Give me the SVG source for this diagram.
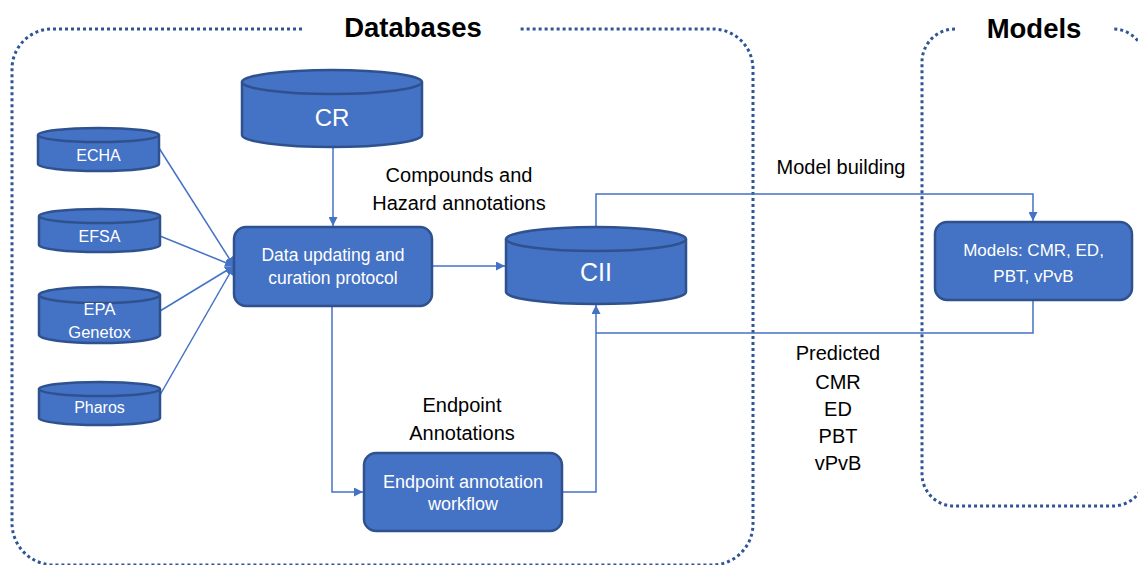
<svg xmlns="http://www.w3.org/2000/svg" width="1138" height="565" viewBox="0 0 1138 565">
  <defs>
    <marker id="arrow" viewBox="0 0 10 10" refX="10" refY="5" markerWidth="9" markerHeight="9" markerUnits="userSpaceOnUse" orient="auto">
      <path d="M0,0 L10,5 L0,10 Z" fill="#4472C4"/>
    </marker>
    <style>
      .frame { fill: none; stroke: #2F5597; stroke-width: 3; stroke-dasharray: 3 3; }
      .shape { fill: #4472C4; stroke: #2F528F; stroke-width: 2.5; }
      .link { fill: none; stroke: #4472C4; stroke-width: 1.5; }
      .arrow { marker-end: url(#arrow); }
      .label { font-family: "Liberation Sans", Arial, sans-serif; fill: #FFFFFF; text-anchor: middle; }
      .note { font-family: "Liberation Sans", Arial, sans-serif; fill: #000000; text-anchor: middle; font-size: 20px; }
      .title { font-family: "Liberation Sans", Arial, sans-serif; fill: #000000; text-anchor: middle; font-size: 27.5px; font-weight: bold; }
    </style>
  </defs>
  <rect width="1138" height="565" fill="#FFFFFF"/>

  <!-- Group frames -->
  <g id="databases-frame">
    <path class="frame" d="M302,29 H52 A40,40 0 0 0 12,69 V523 A42,42 0 0 0 54,565 H712 A41,41 0 0 0 753,524 V69 A40,40 0 0 0 713,29 H520"/>
    <text class="title" x="413" y="37">Databases</text>
  </g>
  <g id="models-frame">
    <path class="frame" d="M955,29 A33,33 0 0 0 922,62 V474 A32,32 0 0 0 954,506 H1113 A32,32 0 0 0 1145,474 V61 A32,32 0 0 0 1113,29 H1112"/>
    <text class="title" x="1034" y="38">Models</text>
  </g>

  <!-- Connectors -->
  <g id="connectors">
    <line class="link arrow" x1="159" y1="148" x2="234" y2="266"/>
    <line class="link arrow" x1="160" y1="236" x2="234" y2="266"/>
    <line class="link arrow" x1="160" y1="311" x2="234" y2="266"/>
    <line class="link arrow" x1="160" y1="395" x2="234" y2="266"/>
    <line class="link arrow" x1="333" y1="147" x2="333" y2="226"/>
    <line class="link arrow" x1="432" y1="266" x2="505" y2="266"/>
    <polyline class="link arrow" points="596,227 596,194 1033,194 1033,221"/>
    <polyline class="link" points="1033,301 1033,333 596,333"/>
    <polyline class="link arrow" points="332,306 332,492 363,492"/>
    <polyline class="link arrow" points="562,492 596,492 596,305"/>
  </g>

  <!-- Source databases -->
  <g id="echa">
    <path class="shape" d="M38,135 V164 A60.5,7 0 0 0 159,164 V135"/>
    <ellipse class="shape" cx="98.5" cy="135" rx="60.5" ry="7"/>
    <text class="label" x="98.5" y="161" font-size="16">ECHA</text>
  </g>
  <g id="efsa">
    <path class="shape" d="M39,216 V245 A60.5,7 0 0 0 160,245 V216"/>
    <ellipse class="shape" cx="99.5" cy="216" rx="60.5" ry="7"/>
    <text class="label" x="99.5" y="242" font-size="16">EFSA</text>
  </g>
  <g id="epa-genetox">
    <path class="shape" d="M39,295 V335 A60.5,8 0 0 0 160,335 V295"/>
    <ellipse class="shape" cx="99.5" cy="295" rx="60.5" ry="8"/>
    <text class="label" x="99.5" y="315" font-size="16.5">EPA</text>
    <text class="label" x="99.5" y="338" font-size="16.5">Genetox</text>
  </g>
  <g id="pharos">
    <path class="shape" d="M39,389 V418 A60.5,7 0 0 0 160,418 V389"/>
    <ellipse class="shape" cx="99.5" cy="389" rx="60.5" ry="7"/>
    <text class="label" x="99.5" y="413" font-size="16">Pharos</text>
  </g>

  <!-- Core stores and processes -->
  <g id="cr">
    <path class="shape" d="M242,82 V135 A90,12 0 0 0 422,135 V82"/>
    <ellipse class="shape" cx="332" cy="82" rx="90" ry="12"/>
    <text class="label" x="332" y="125.5" font-size="24">CR</text>
  </g>
  <g id="curation">
    <rect class="shape" x="234" y="227" width="198" height="79" rx="12"/>
    <text class="label" x="333" y="261" font-size="17.5">Data updating and</text>
    <text class="label" x="333" y="284" font-size="17.5">curation protocol</text>
  </g>
  <g id="cii">
    <path class="shape" d="M506,239 V292 A90,12 0 0 0 686,292 V239"/>
    <ellipse class="shape" cx="596" cy="239" rx="90" ry="12"/>
    <text class="label" x="596" y="281" font-size="25">CII</text>
  </g>
  <g id="endpoint-workflow">
    <rect class="shape" x="364" y="453" width="198" height="78" rx="12"/>
    <text class="label" x="463" y="488" font-size="18">Endpoint annotation</text>
    <text class="label" x="463" y="510" font-size="18">workflow</text>
  </g>
  <g id="models">
    <rect class="shape" x="935" y="222" width="197" height="78" rx="12"/>
    <text class="label" x="1033.5" y="256" font-size="17">Models: CMR, ED,</text>
    <text class="label" x="1033.5" y="282" font-size="17">PBT, vPvB</text>
  </g>

  <!-- Flow labels -->
  <g id="flow-labels">
    <text class="note" x="459" y="182">Compounds and</text>
    <text class="note" x="459" y="210">Hazard annotations</text>
    <text class="note" x="841" y="174">Model building</text>
    <text class="note" x="462" y="412">Endpoint</text>
    <text class="note" x="462" y="440">Annotations</text>
    <text class="note" x="838" y="360">Predicted</text>
    <text class="note" x="838" y="389">CMR</text>
    <text class="note" x="838" y="416">ED</text>
    <text class="note" x="838" y="443">PBT</text>
    <text class="note" x="838" y="470">vPvB</text>
  </g>
</svg>
